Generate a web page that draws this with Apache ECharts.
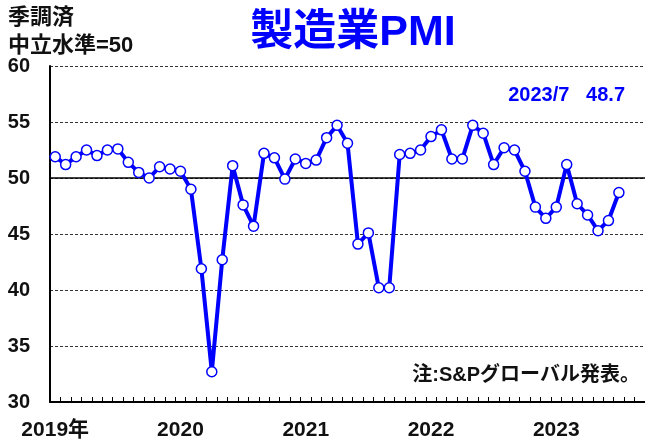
<!DOCTYPE html>
<html>
<head>
<meta charset="utf-8">
<script src="https://cdn.jsdelivr.net/npm/echarts@6/dist/echarts.min.js"></script>
<style>
html,body{margin:0;padding:0;background:#fff;}
#chart{width:645px;height:445px;}
</style>
</head>
<body>
<div id="chart"></div>
<script>
// Months on the category axis (Jan 2019 – Sep 2023)
const months = [
  '2019/1','2019/2','2019/3','2019/4','2019/5','2019/6','2019/7','2019/8','2019/9','2019/10','2019/11','2019/12',
  '2020/1','2020/2','2020/3','2020/4','2020/5','2020/6','2020/7','2020/8','2020/9','2020/10','2020/11','2020/12',
  '2021/1','2021/2','2021/3','2021/4','2021/5','2021/6','2021/7','2021/8','2021/9','2021/10','2021/11','2021/12',
  '2022/1','2022/2','2022/3','2022/4','2022/5','2022/6','2022/7','2022/8','2022/9','2022/10','2022/11','2022/12',
  '2023/1','2023/2','2023/3','2023/4','2023/5','2023/6','2023/7','2023/8','2023/9'
];
// Manufacturing PMI values (seasonally adjusted)
const pmi = [
  51.9,51.2,51.9,52.5,52.0,52.5,52.6,51.4,50.5,50.0,51.0,50.8,
  50.6,49.0,41.9,32.7,42.7,51.1,47.6,45.7,52.2,51.8,49.9,51.7,
  51.3,51.6,53.6,54.7,53.1,44.1,45.1,40.2,40.2,52.1,52.2,52.5,
  53.7,54.3,51.7,51.7,54.7,54.0,51.2,52.7,52.5,50.6,47.4,46.4,
  47.4,51.2,47.7,46.7,45.3,46.2,48.7
];
// Year labels shown under January of each year
const yearLabels = {'2019/1':'2019年','2020/1':'2020','2021/1':'2021','2022/1':'2022','2023/1':'2023'};
const yTicks = {min:30, max:60, interval:5};
const neutral = 50;

const lastIdx = pmi.length - 1;
const latestText = months[lastIdx] + '   ' + pmi[lastIdx].toFixed(1);

const sans = '"Liberation Sans",Arial,"Noto Sans CJK JP",sans-serif';
const cjk = '"Liberation Sans","Noto Sans CJK JP",sans-serif';

const chart = echarts.init(document.getElementById('chart'), null, {renderer:'canvas'});
chart.setOption({
  animation:false,
  backgroundColor:'#fff',
  grid:{left:50, right:0, top:66, bottom:43, containLabel:false},
  xAxis:{
    type:'category',
    data:months,
    boundaryGap:true,
    axisLine:{show:true, lineStyle:{color:'#000', width:2}},
    axisTick:{show:true, inside:true, length:5, interval:0, lineStyle:{color:'#000', width:1}},
    axisLabel:{
      show:true,
      interval:0,
      margin:18,
      formatter:(v)=> yearLabels[v] || '',
      color:'#111',
      fontSize:21,
      fontWeight:'bold',
      fontFamily:cjk
    },
    splitLine:{show:false}
  },
  yAxis:{
    type:'value',
    min:yTicks.min, max:yTicks.max, interval:yTicks.interval,
    axisLine:{show:true, lineStyle:{color:'#000', width:2}},
    axisTick:{show:false},
    axisLabel:{margin:20, color:'#111', fontSize:20, fontWeight:'bold', fontFamily:sans},
    splitLine:{show:true, lineStyle:{color:'#333', width:1, type:[3,2]}}
  },
  series:[{
    type:'line',
    data:pmi,
    symbol:'circle',
    symbolSize:10,
    showAllSymbol:true,
    lineStyle:{color:'#0000ff', width:4},
    itemStyle:{color:'#fff', borderColor:'#0000ff', borderWidth:1.5},
    emphasis:{disabled:true},
    z:3,
    markLine:{
      silent:true,
      symbol:['none','none'],
      label:{show:false},
      lineStyle:{color:'#000', width:1.5, type:'solid'},
      data:[{yAxis:neutral}],
      z:1
    }
  }],
  graphic:[
    {type:'text', left:8, top:7, style:{text:'季調済', font:'bold 22px '+cjk, fill:'#111'}},
    {type:'text', left:8, top:35, style:{text:'中立水準=50', font:'bold 22px '+cjk, fill:'#111'}},
    {type:'text', x:353, y:33, style:{text:'製造業PMI', font:'bold 43px '+cjk, fill:'#0000ff', align:'center', verticalAlign:'middle'}},
    {type:'text', x:625, y:95, style:{text:latestText, font:'bold 20px '+sans, fill:'#0000ff', align:'right', verticalAlign:'middle'}},
    {type:'text', x:640, y:375, style:{text:'注:S&Pグローバル発表。', font:'bold 20px '+cjk, fill:'#111', align:'right', verticalAlign:'middle'}}
  ]
});
</script>
</body>
</html>
